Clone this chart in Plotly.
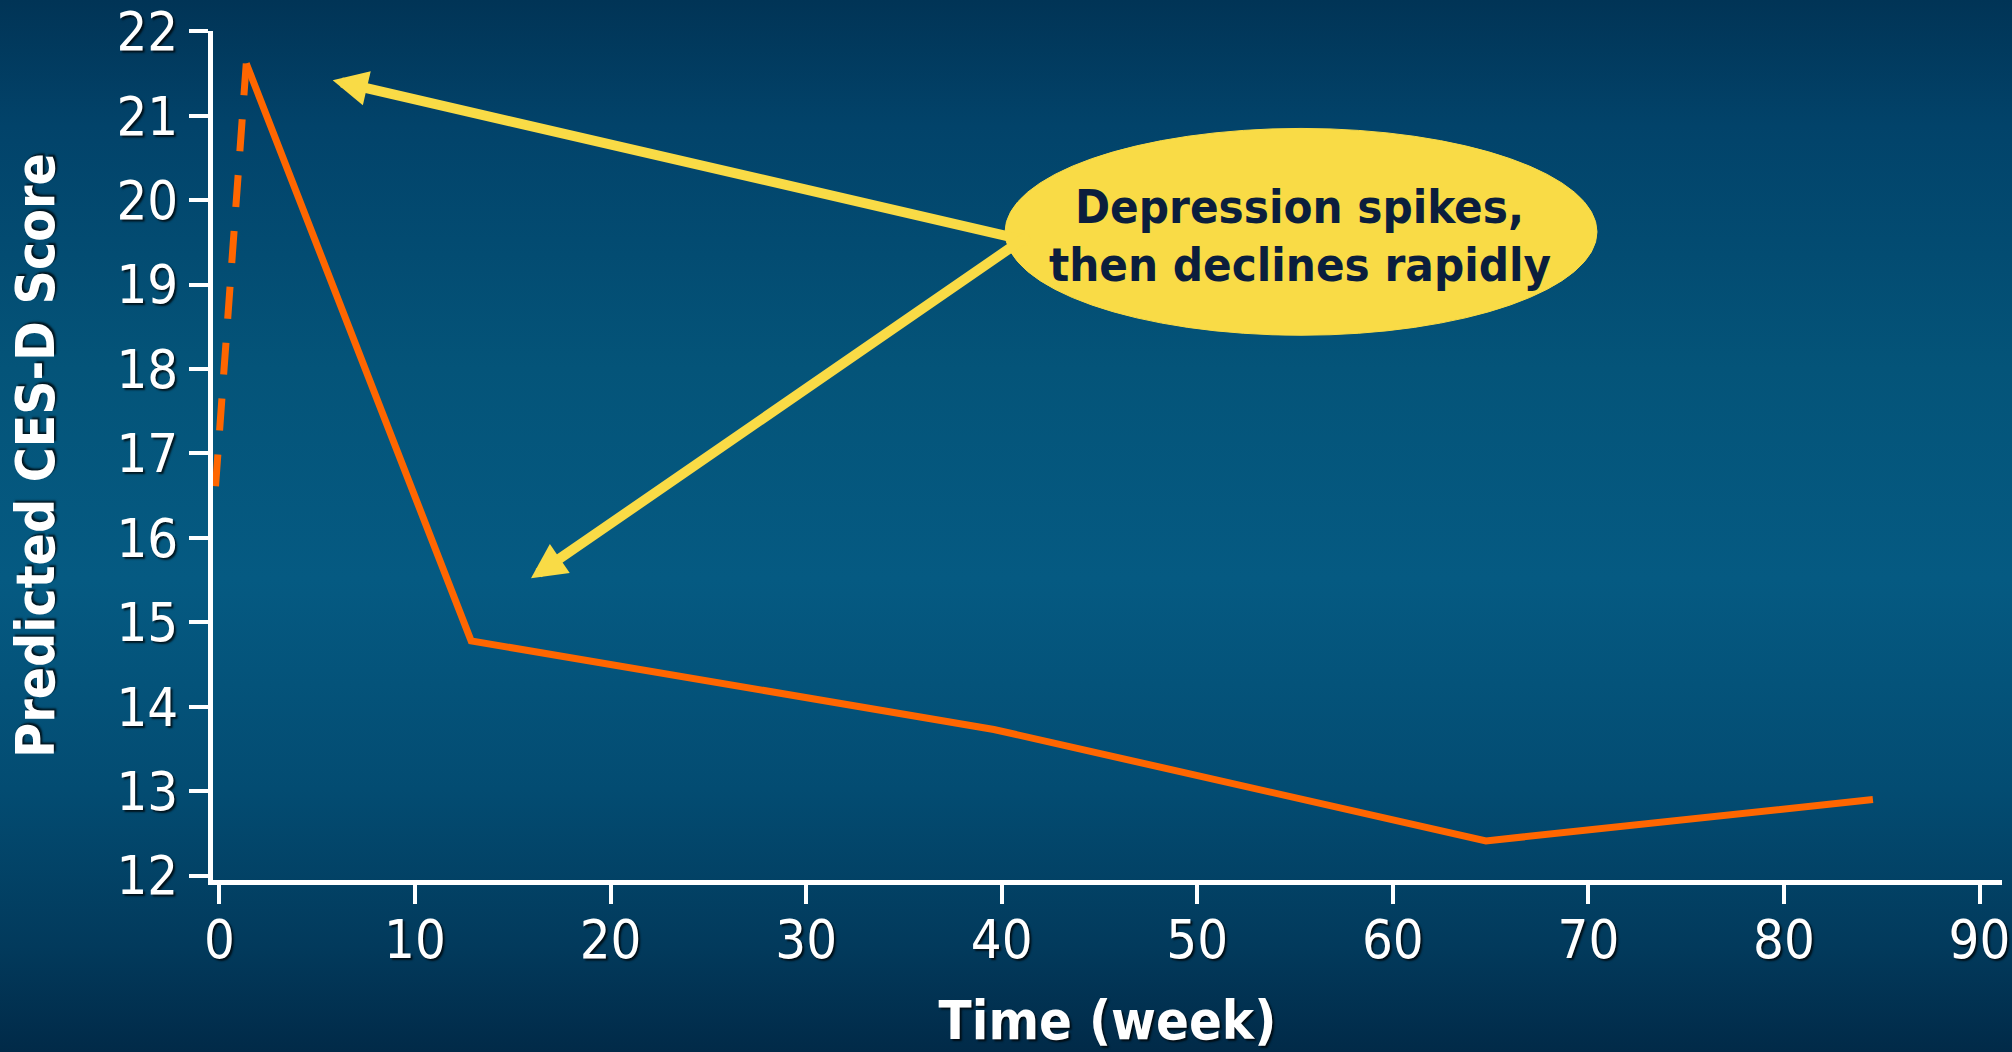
import base64
import plotly.graph_objects as go

# Predicted CES-D score over time (weeks)
spike_weeks = [1.37, -0.26]          # dashed run-up, traced from the peak back to baseline
spike_scores = [21.62, 16.42]
trend_weeks = [1.37, 12.87, 39.6, 64.76, 84.55]
trend_scores = [21.62, 14.78, 13.73, 12.41, 12.90]

x_ticks = [0, 10, 20, 30, 40, 50, 60, 70, 80, 90]
y_ticks = [12, 13, 14, 15, 16, 17, 18, 19, 20, 21, 22]

x_title = "Time (week)"
y_title = "Predicted CES-D Score"
callout_lines = ["Depression spikes,", "then declines rapidly"]

# ---- styling -------------------------------------------------------------
W, H = 2012, 1052
M_L, M_R, M_T, M_B = 213, 10, 31, 172
PW, PH = W - M_L - M_R, H - M_T - M_B

FONT = "DejaVu Sans Condensed, Liberation Sans, sans-serif"
ORANGE = "#FF6600"
YELLOW = "#F9DB46"
NAVY_TEXT = "#0B1E3D"
WHITE = "#FFFFFF"
SHADOW = "2px 2px 2px rgba(0,0,0,0.75)"

# vertical blue gradient used as the slide background
gradient_svg = f"""<svg xmlns="http://www.w3.org/2000/svg" width="{W}" height="{H}" viewBox="0 0 {W} {H}" preserveAspectRatio="none">
<defs><linearGradient id="bg" x1="0" y1="0" x2="0" y2="1">
<stop offset="0" stop-color="#013456"/>
<stop offset="0.12" stop-color="#02436a"/>
<stop offset="0.35" stop-color="#045479"/>
<stop offset="0.55" stop-color="#055a82"/>
<stop offset="0.75" stop-color="#034c72"/>
<stop offset="0.9" stop-color="#023a5c"/>
<stop offset="1" stop-color="#012a48"/>
</linearGradient></defs>
<rect x="0" y="0" width="{W}" height="{H}" fill="url(#bg)"/></svg>"""
gradient_src = "data:image/svg+xml;base64," + base64.b64encode(gradient_svg.encode()).decode()

fig = go.Figure()

fig.add_trace(go.Scatter(
    x=spike_weeks, y=spike_scores, mode="lines",
    line=dict(color=ORANGE, width=7, dash="32px,24px"),
    hoverinfo="skip", showlegend=False,
))
fig.add_trace(go.Scatter(
    x=trend_weeks, y=trend_scores, mode="lines",
    line=dict(color=ORANGE, width=7),
    hoverinfo="skip", showlegend=False,
))

axis_common = dict(
    automargin=False,
    showline=True, linecolor=WHITE, linewidth=5,
    ticks="outside", ticklen=19, tickwidth=4, tickcolor=WHITE,
    showgrid=False, zeroline=False,
    tickfont=dict(family=FONT, size=54, color=WHITE, shadow=SHADOW),
)

fig.update_xaxes(
    range=[-0.33, 91.15], tickvals=x_ticks, ticklabelstandoff=-11,
    title=dict(text=x_title, standoff=48,
               font=dict(family=FONT, size=54, color=WHITE, weight="bold", shadow=SHADOW)),
    **axis_common,
)
fig.update_yaxes(
    range=[11.947, 22.004], tickvals=y_ticks, ticklabelstandoff=0,
    title=dict(text=y_title, standoff=46,
               font=dict(family=FONT, size=53, color=WHITE, weight="bold", shadow=SHADOW)),
    **axis_common,
)

# callout bubble
fig.add_shape(
    type="circle", xref="x", yref="y",
    x0=40.17, x1=70.44, y0=18.40, y1=20.85,
    fillcolor=YELLOW, line=dict(color=YELLOW, width=1), layer="above",
)

# arrows from the bubble to the spike and to the drop
arrow_common = dict(
    text="", showarrow=True, arrowhead=2, arrowsize=0.7, arrowwidth=10,
    arrowcolor=YELLOW, standoff=0, axref="pixel", ayref="pixel",
)
fig.add_annotation(x=5.79, y=21.42, ax=697, ay=161, **arrow_common)
fig.add_annotation(x=15.93, y=15.52, ax=499, ay=-344, **arrow_common)

# callout text, one annotation per line
for text, yc in zip(callout_lines, [19.93, 19.24]):
    fig.add_annotation(
        x=55.25, y=yc, xref="x", yref="y", text=text, showarrow=False,
        font=dict(family=FONT, size=47, color=NAVY_TEXT, weight="bold"),
        xanchor="center", yanchor="middle",
    )

fig.add_layout_image(dict(
    source=gradient_src, xref="paper", yref="paper",
    x=-M_L / PW, y=1 + M_T / PH, sizex=W / PW, sizey=H / PH,
    xanchor="left", yanchor="top", sizing="stretch", layer="below",
))

fig.update_layout(
    width=W, height=H,
    margin=dict(l=M_L, r=M_R, t=M_T, b=M_B, pad=0, autoexpand=False),
    paper_bgcolor="#03496e", plot_bgcolor="rgba(0,0,0,0)",
    showlegend=False,
)

fig.write_html("out.html", config=dict(displayModeBar=False))
